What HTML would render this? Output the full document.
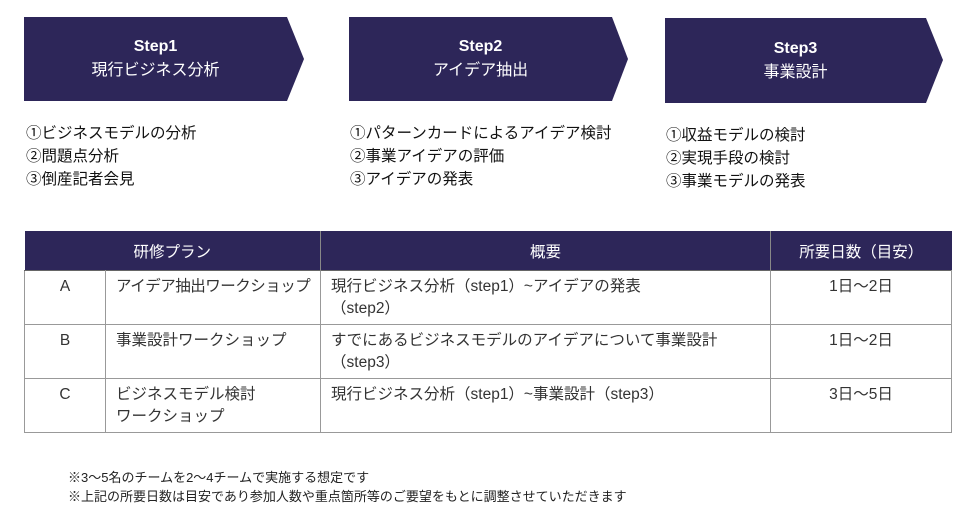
<!DOCTYPE html>
<html><head><meta charset="utf-8"><style>
body{margin:0;width:970px;height:530px;background:#fff;position:relative;overflow:hidden;font-family:"Liberation Sans","Noto Sans CJK JP",sans-serif;color:#222}
.s{position:absolute}
.t{position:absolute;color:#fff;text-align:center;font-size:16px;line-height:24px}
.t b{font-size:16px}
.l{position:absolute;font-size:15.5px;line-height:23px;color:#111}
table{position:absolute;left:24px;top:231px;border-collapse:collapse;width:927px;table-layout:fixed;font-size:15.5px;color:#333}
th{background:#2d2659;color:#fff;font-weight:normal;height:39px;padding:0;border-left:1px solid #888}
td{border:1px solid #999;border-top:1px solid #666;vertical-align:top;padding:5px 10px 0;line-height:22px;height:48px;white-space:nowrap;overflow:visible}
.n{position:absolute;left:68px;font-size:13px;line-height:19px;color:#222}
</style></head><body>
<svg class="s" style="left:0;top:0" width="970" height="110">
<polygon points="24,17 287,17 304,59 287,101 24,101" fill="#2d2659"/>
<polygon points="349,17 612,17 628,59 612,101 349,101" fill="#2d2659"/>
<polygon points="665,18 926,18 943,60 926,103 665,103" fill="#2d2659"/>
</svg>
<div class="t" style="left:24px;width:263px;top:35px"><b>Step1</b><br>現行ビジネス分析</div>
<div class="t" style="left:349px;width:263px;top:35px"><b>Step2</b><br>アイデア抽出</div>
<div class="t" style="left:665px;width:261px;top:37px"><b>Step3</b><br>事業設計</div>
<div class="l" style="left:26px;top:122px">①ビジネスモデルの分析<br>②問題点分析<br>③倒産記者会見</div>
<div class="l" style="left:350px;top:122px">①パターンカードによるアイデア検討<br>②事業アイデアの評価<br>③アイデアの発表</div>
<div class="l" style="left:666px;top:124px">①収益モデルの検討<br>②実現手段の検討<br>③事業モデルの発表</div>
<table>
<colgroup><col style="width:81px"><col style="width:215px"><col style="width:450px"><col style="width:181px"></colgroup>
<tr><th colspan="2" style="border-left:none">研修プラン</th><th>概要</th><th>所要日数（目安）</th></tr>
<tr><td style="text-align:center">A</td><td style="letter-spacing:-0.5px">アイデア抽出ワークショップ</td><td>現行ビジネス分析（step1）~アイデアの発表<br>（step2）</td><td style="text-align:center">1日～2日</td></tr>
<tr><td style="text-align:center">B</td><td>事業設計ワークショップ</td><td>すでにあるビジネスモデルのアイデアについて事業設計<br>（step3）</td><td style="text-align:center">1日～2日</td></tr>
<tr><td style="text-align:center">C</td><td>ビジネスモデル検討<br>ワークショップ</td><td>現行ビジネス分析（step1）~事業設計（step3）</td><td style="text-align:center">3日～5日</td></tr>
</table>
<div class="n" style="top:468px">※3～5名のチームを2～4チームで実施する想定です<br>※上記の所要日数は目安であり参加人数や重点箇所等のご要望をもとに調整させていただきます</div>
</body></html>
